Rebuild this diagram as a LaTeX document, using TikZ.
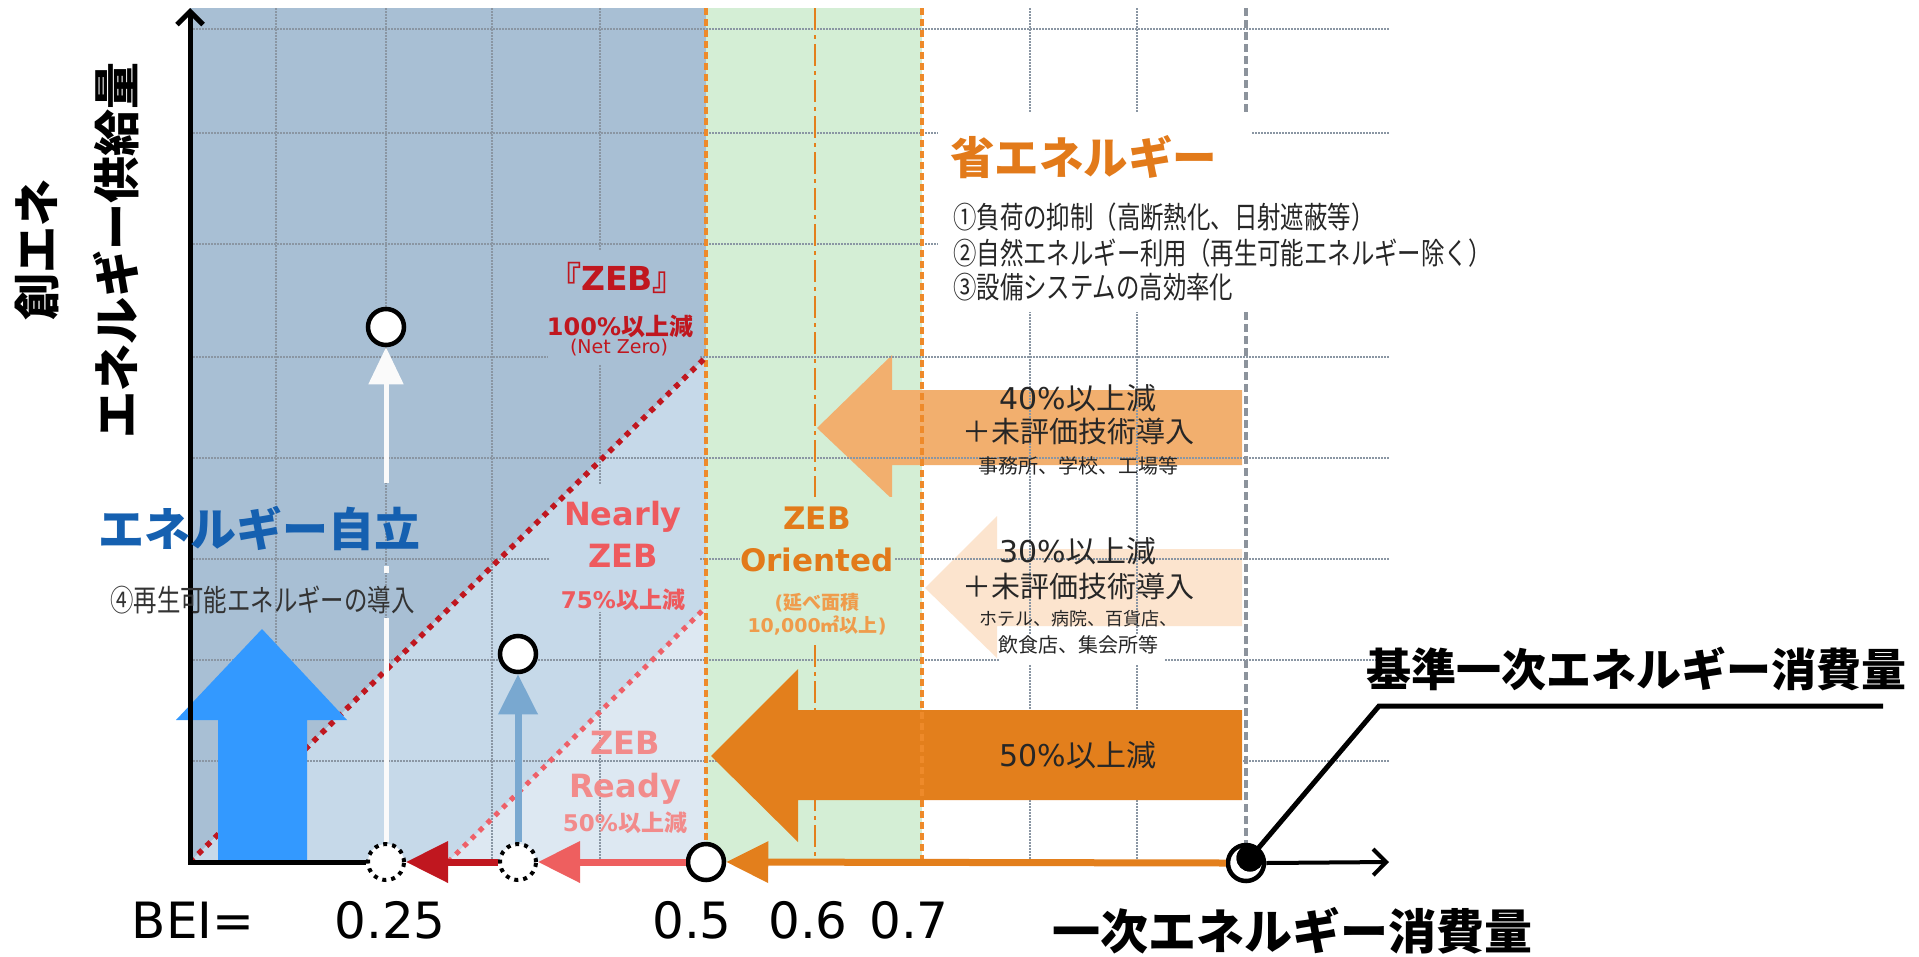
\documentclass[tikz,border=0pt]{standalone}
\usepackage{fontspec}
\usetikzlibrary{arrows.meta}
\newfontfamily\dv{DejaVu Sans}
\newfontfamily\jp{Noto Sans CJK JP}
\newfontfamily\jpc[FakeStretch=0.78]{Noto Sans CJK JP}
\newcommand\fsz[2]{\fontsize{#1}{#2}\selectfont}
\definecolor{reg1}{HTML}{A8BFD4}
\definecolor{reg2}{HTML}{C6D9E9}
\definecolor{reg3}{HTML}{DDE8F2}
\definecolor{greenreg}{HTML}{D4EED5}
\definecolor{orD}{HTML}{E37F1C}
\definecolor{orDot}{HTML}{EE8A2A}
\definecolor{orL}{HTML}{F2AF6E}
\definecolor{orVL}{HTML}{FCE4CE}
\definecolor{zebred}{HTML}{C0171F}
\definecolor{nzred}{HTML}{EE5A5E}
\definecolor{pinkline}{HTML}{EE6068}
\definecolor{rdpink}{HTML}{F28B8B}
\definecolor{salmon}{HTML}{EE5F5F}
\definecolor{blueA}{HTML}{3399FF}
\definecolor{steel}{HTML}{79A8D0}
\definecolor{titleblue}{HTML}{1560B0}
\definecolor{orText}{HTML}{E27A1A}
\definecolor{orSub}{HTML}{EF9C4C}
\definecolor{gridc}{HTML}{8A96A3}
\definecolor{grayd}{HTML}{8C939C}
\tikzset{
  gridline/.style={draw=gridc, line width=1.1pt, dash pattern=on 1.5pt off 1.5pt},
  ordot/.style={draw=orDot, line width=4pt, dash pattern=on 7pt off 4pt},
  ordashdot/.style={draw=orD, line width=2pt, dash pattern=on 22pt off 5pt on 4pt off 5pt},
  graydash/.style={draw=grayd, line width=4.5pt, dash pattern=on 8pt off 4pt},
  reddot/.style={draw=zebred, line width=5.5pt, dash pattern=on 5.5pt off 6pt},
  pinkdot/.style={draw=pinkline, line width=5pt, dash pattern=on 5pt off 6pt},
  opencirc/.style={circle, draw=black, line width=4.5pt, fill=white, minimum size=36pt, inner sep=0pt},
  dotcirc/.style={circle, draw=black, line width=4pt, fill=white, minimum size=36pt, inner sep=0pt, dash pattern=on 4pt off 5pt},
  wline/.style={draw=white!96!gray, line width=5pt},
  sline/.style={draw=steel, line width=7pt},
  xarr/.style={line width=7pt},
  axisline/.style={draw=black, line width=5pt},
  leader/.style={draw=black, line width=5pt},
  lbl/.style={inner sep=0pt},
  bighead/.style={-{Triangle[width=40pt,length=42pt]}},
  barb/.style={-{Straight Barb[length=13pt,width=26pt]}}
}
\begin{document}
\begin{tikzpicture}[x=1pt,y=-1pt]
\useasboundingbox[fill=white] (0,0) rectangle (1919,956);

% regions
\fill[reg1] (190,8) -- (706,8) -- (706,357) -- (190,862) -- cycle;
\fill[reg2] (190,862) -- (706,357) -- (706,607) -- (448,862) -- cycle;
\fill[reg3] (448,862) -- (706,607) -- (706,862) -- cycle;
\fill[greenreg] (706,8) rectangle (922,862);

% light orange arrows
\fill[orL] (1242,390) -- (892,390) -- (892,355) -- (817,428) -- (892,499) -- (892,465) -- (1242,465) -- cycle;
\fill[orVL] (1242,549) -- (997,549) -- (997,516) -- (925,588) -- (997,658) -- (997,626) -- (1242,626) -- cycle;

% grid
\foreach \y in {29,133,244,357,458,559,660,761} \draw[gridline] (190,\y) -- (1390,\y);
\foreach \x in {276,386,492,600,1030,1137} \draw[gridline] (\x,8) -- (\x,862);

% gaps behind labels
\begin{scope}
\clip (190,8) -- (706,8) -- (706,357) -- (190,862) -- cycle;
\fill[reg1] (548,250) rectangle (700,365);
\end{scope}
\begin{scope}
\clip (190,862) -- (706,357) -- (706,607) -- (448,862) -- cycle;
\fill[reg2] (550,485) rectangle (700,612);
\end{scope}
\fill[greenreg] (740,497) rectangle (895,645);
\fill[white] (938,112) rectangle (1251,195);
\fill[white] (938,195) rectangle (1480,312);
\fill[white] (999,634) rectangle (1164,664);

% dark orange arrow
\fill[orD] (1242,710) -- (798,710) -- (798,669) -- (711,756) -- (798,842) -- (798,800) -- (1242,800) -- cycle;

% vertical reference lines
\draw[ordot] (706,8) -- (706,862);
\draw[ordot] (922,8) -- (922,862);
\draw[ordashdot] (815,8) -- (815,497);
\draw[ordashdot] (815,645) -- (815,862);
\draw[graydash] (1246,8) -- (1246,112);
\draw[graydash] (1246,312) -- (1246,845);

% diagonal boundaries
\draw[reddot] (190,862) -- (706,357);
\draw[pinkdot] (448,862) -- (706,607);

% big blue arrow
\fill[blueA] (218,862) -- (218,720) -- (176,720) -- (262,629) -- (347,720) -- (307,720) -- (307,862) -- cycle;

% circles
\node[opencirc] (u1) at (386,327) {};
\node[opencirc] (u2) at (518,654) {};
\node[dotcirc] (d1) at (386,862) {};
\node[dotcirc] (d2) at (518,862) {};
\node[opencirc] (c0) at (706,862) {};
\node[opencirc] (base) at (1246,863) {};

% vertical thin arrows
\coordinate (w1) at (386,618);
\coordinate (w2) at (386,573);
\coordinate (w3) at (386,566);
\coordinate (w4) at (386,483);
\draw[wline] (d1.north) -- (w1);
\draw[wline] (w2) -- (w3);
\draw[wline, -{Triangle[width=34pt,length=37pt]}] (w4) -- (u1.south);
\draw[sline, -{Triangle[width=38pt,length=40pt]}] (d2.north) -- (u2.south);

% axes and bottom arrows
\coordinate (origin) at (190,864);
\coordinate (ytop) at (190,8);
\coordinate (xend) at (1389,862);
\coordinate (xstart) at (188,862);
\draw[axisline] (xstart) -- (d1.west);
\draw[axisline, barb] (origin) -- (ytop);
\draw[xarr, draw=zebred, bighead] (d2.west) -- (d1.east);
\draw[xarr, draw=salmon, bighead] (c0.west) -- (d2.east);
\draw[xarr, draw=orD, bighead] (base.west) -- (c0.east);
\draw[axisline, line width=4pt, barb] (base.east) -- (xend);

% leader
\coordinate (k1) at (1379,706);
\coordinate (k2) at (1883,706);
\node[circle, fill=black, minimum size=27pt, inner sep=0pt] (basedot) at (1250,858) {};
\draw[leader] (basedot.center) -- (k1) -- (k2);
\node[circle, fill=black, minimum size=27pt, inner sep=0pt] at (1250,858) {};

% texts
\node[lbl, rotate=90, align=center, font=\jp\bfseries\fsz{47}{80}] (ylab) at (77,250) {創エネ\\エネルギー供給量};
\node[lbl, anchor=west, font=\jp\bfseries\fsz{46}{50}, text=titleblue] (jiritsu) at (98,528) {エネルギー自立};
\node[lbl, anchor=west, font=\jpc\fsz{30}{34}, text=black!80] (renew) at (110,600) {④再生可能エネルギーの導入};

\node[lbl, font=\bfseries\fsz{33}{36}, text=zebred] (zebT) at (617,278) {{\jp 『}{\dv ZEB}{\jp 』}};
\node[lbl, font=\bfseries\fsz{24}{28}, text=zebred] (zebP) at (620,326) {{\dv 100\%}{\jp 以上減}};
\node[lbl, font=\dv\fsz{19}{22}, text=zebred] (zebN) at (619,348) {(Net Zero)};

\node[lbl, align=center, font=\dv\bfseries\fsz{32}{42}, text=nzred] (nearly) at (623,534) {Nearly\\ZEB};
\node[lbl, font=\bfseries\fsz{23}{26}, text=nzred] (n75) at (623,600) {{\dv 75\%}{\jp 以上減}};
\node[lbl, align=center, font=\dv\bfseries\fsz{32}{43}, text=rdpink] (ready) at (625,768) {ZEB\\Ready};
\node[lbl, font=\bfseries\fsz{23}{26}, text=rdpink] (r50) at (625,823) {{\dv 50\%}{\jp 以上減}};

\node[lbl, align=center, font=\dv\bfseries\fsz{31}{42}, text=orText] (orient) at (817,539) {ZEB\\Oriented};
\node[lbl, align=center, font=\bfseries\fsz{19}{23}, text=orSub] (area) at (817,614) {{\dv (}{\jp 延べ面積}\\{\dv 10,000}{\jp ㎡以上}{\dv )}};

\node[lbl, anchor=west, font=\jp\bfseries\fsz{44.5}{48}, text=orText] (shoene) at (950,157) {省エネルギー};
\node[lbl, anchor=west, font=\jpc\fsz{30}{35}, text=black!85] (m1) at (953,217) {①負荷の抑制（高断熱化、日射遮蔽等）};
\node[lbl, anchor=west, font=\jpc\fsz{30}{35}, text=black!85] (m2) at (953,253) {②自然エネルギー利用（再生可能エネルギー除く）};
\node[lbl, anchor=west, font=\jpc\fsz{30}{35}, text=black!85] (m3) at (953,287) {③設備システムの高効率化};

\node[lbl, font=\fsz{30}{34}, text=black!85] (t40a) at (1078,398) {{\dv 40\%}{\jp 以上減}};
\node[lbl, font=\jp\fsz{29}{34}, text=black!85] (t40b) at (1078,431) {＋未評価技術導入};
\node[lbl, font=\jp\fsz{20}{24}, text=black!85] (t40c) at (1078,466) {事務所、学校、工場等};
\node[lbl, font=\fsz{30}{34}, text=black!85] (t30a) at (1078,551) {{\dv 30\%}{\jp 以上減}};
\node[lbl, font=\jp\fsz{29}{34}, text=black!85] (t30b) at (1078,586) {＋未評価技術導入};
\node[lbl, font=\jp\fsz{18}{22}, text=black!85] (t30c) at (1078,619) {ホテル、病院、百貨店、};
\node[lbl, font=\jp\fsz{20}{24}, text=black!85] (t30d) at (1078,645) {飲食店、集会所等};
\node[lbl, font=\fsz{30}{34}, text=black!85] (t50) at (1078,755) {{\dv 50\%}{\jp 以上減}};

\node[lbl, font=\dv\fsz{50}{56}] (bei) at (193,920) {BEI=};
\node[lbl, font=\dv\fsz{50}{56}] (v025) at (390,920) {0.25};
\node[lbl, font=\dv\fsz{50}{56}] (v05) at (692,920) {0.5};
\node[lbl, font=\dv\fsz{50}{56}] (v06) at (808,920) {0.6};
\node[lbl, font=\dv\fsz{50}{56}] (v07) at (909,920) {0.7};

\node[lbl, font=\jp\bfseries\fsz{48}{52}] (xlab) at (1292,931) {一次エネルギー消費量};
\node[lbl, font=\jp\bfseries\fsz{45}{50}] (baselab) at (1636,669) {基準一次エネルギー消費量};
\end{tikzpicture}
\end{document}
